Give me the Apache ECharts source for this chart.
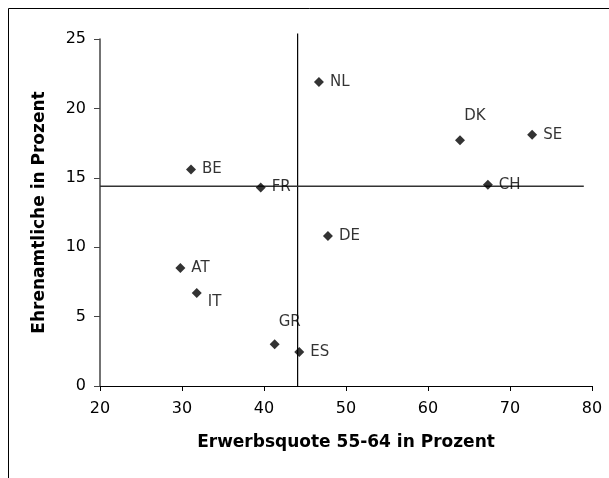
<!DOCTYPE html>
<html>
<head>
<meta charset="utf-8">
<script src="https://cdn.jsdelivr.net/npm/echarts@6/dist/echarts.min.js"></script>
<style>
html,body{margin:0;padding:0;background:#fff;}
#chart{width:609px;height:478px;}
</style>
</head>
<body>
<div id="chart"></div>
<script>
// Data
const countries = ['NL','DK','SE','BE','FR','CH','DE','AT','IT','GR','ES'];
const erwerbsquote = [46.7, 63.9, 72.7, 31.1, 39.6, 67.3, 47.8, 29.8, 31.8, 41.3, 44.3];
const ehrenamtliche = [21.9, 17.7, 18.1, 15.6, 14.3, 14.5, 10.8, 8.5, 6.7, 3.0, 2.45];
const meanX = 44.1;     // vertical reference line
const meanY = 14.4;     // horizontal reference line
const vLineY = [0, 25.4];
const hLineX = [20, 79.0];
const xTicks = [20, 30, 40, 50, 60, 70, 80];
const yTicks = [0, 5, 10, 15, 20, 25];

// label placement (style only)
const labelStyle = {
  DK: {position: 'top', offset: [15, -6]},
  GR: {position: 'top', offset: [15, -4]},
  IT: {position: 'right', offset: [0, 9]}
};

const font = '"DejaVu Sans", "Liberation Sans", Arial, sans-serif';
const chart = echarts.init(document.getElementById('chart'), null, {renderer: 'canvas'});

const scatterData = countries.map((c, i) => {
  const d = {name: c, value: [erwerbsquote[i], ehrenamtliche[i]]};
  if (labelStyle[c]) d.label = labelStyle[c];
  return d;
});

chart.setOption({
  animation: false,
  backgroundColor: '#fff',
  graphic: [{
    type: 'rect',
    shape: {x: 8.5, y: 8.5, width: 620, height: 500},
    style: {fill: 'none', stroke: '#000', lineWidth: 1}
  }],
  grid: {left: 100, right: 17, top: 39, bottom: 92, containLabel: false},
  xAxis: {
    type: 'value',
    min: xTicks[0], max: xTicks[xTicks.length - 1], interval: 10,
    name: 'Erwerbsquote 55-64 in Prozent',
    nameLocation: 'middle', nameGap: 48,
    nameTextStyle: {fontFamily: font, fontSize: 17, fontWeight: 'bold', color: '#000'},
    axisLine: {lineStyle: {color: '#000', width: 1}},
    axisTick: {show: true, length: 5, lineStyle: {color: '#000'}},
    axisLabel: {fontFamily: font, fontSize: 16, color: '#000', margin: 15},
    splitLine: {show: false}
  },
  yAxis: {
    type: 'value',
    min: yTicks[0], max: yTicks[yTicks.length - 1], interval: 5,
    name: 'Ehrenamtliche in Prozent',
    nameLocation: 'middle', nameGap: 52, nameRotate: 90,
    nameTextStyle: {fontFamily: font, fontSize: 17, fontWeight: 'bold', color: '#000'},
    axisLine: {show: true, lineStyle: {color: '#444', width: 1.5}},
    axisTick: {show: true, length: 6, lineStyle: {color: '#444'}},
    axisLabel: {fontFamily: font, fontSize: 16, color: '#000', margin: 14},
    splitLine: {show: false}
  },
  series: [
    {
      type: 'line',
      data: [[meanX, vLineY[0]], [meanX, vLineY[1]]],
      showSymbol: false, symbol: 'none', clip: false,
      lineStyle: {color: '#000', width: 1.2},
      silent: true, z: 1
    },
    {
      type: 'line',
      data: [[hLineX[0], meanY], [hLineX[1], meanY]],
      showSymbol: false, symbol: 'none', clip: false,
      lineStyle: {color: '#333', width: 1.5},
      silent: true, z: 1
    },
    {
      type: 'scatter',
      data: scatterData,
      symbol: 'diamond',
      symbolSize: 10,
      itemStyle: {color: '#000'},
      z: 3,
      label: {
        show: true,
        position: 'right',
        distance: 6,
        formatter: p => p.name,
        fontFamily: font, fontSize: 15, color: '#000'
      }
    }
  ]
});
</script>
</body>
</html>
